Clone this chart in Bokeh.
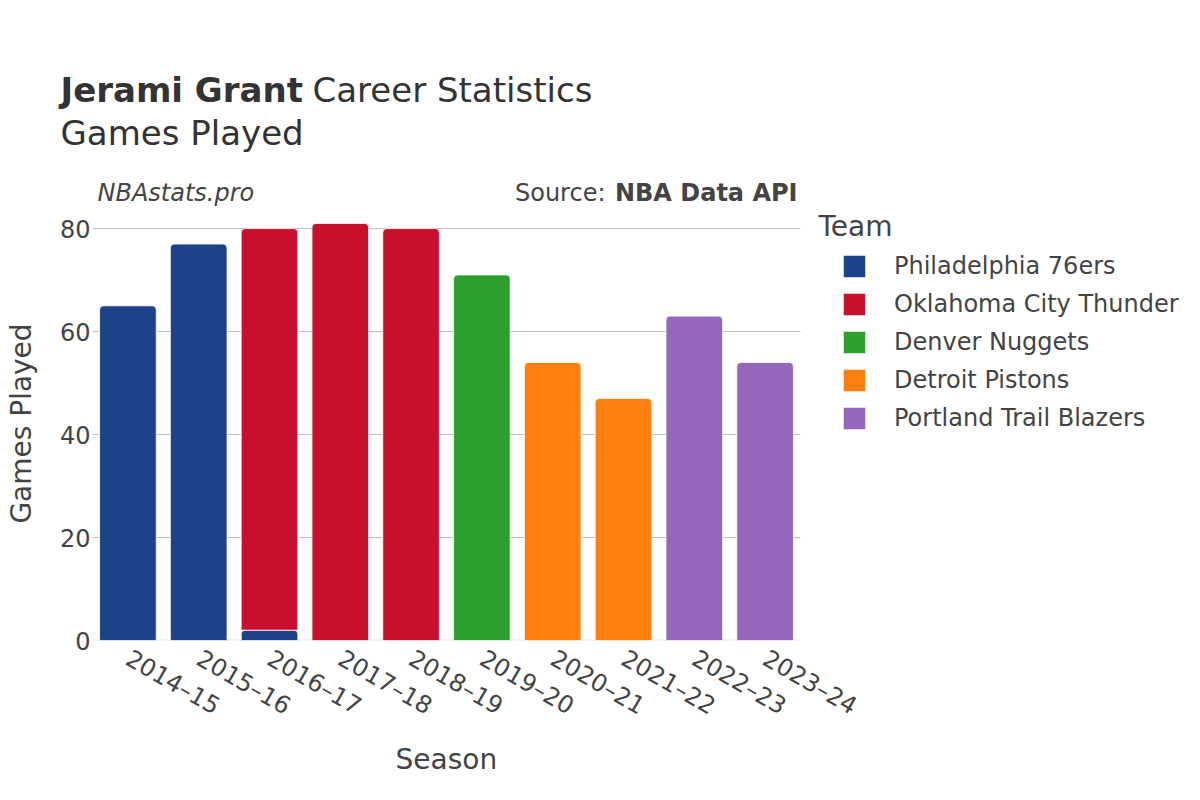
import math
from bokeh.plotting import figure
from bokeh.layouts import column, row
from bokeh.models import Range1d, FixedTicker, Label, Legend, LegendItem, Title
from bokeh.embed import file_html
from bokeh.resources import INLINE

seasons = ["2014–15", "2015–16", "2016–17", "2017–18", "2018–19",
           "2019–20", "2020–21", "2021–22", "2022–23", "2023–24"]
teams = ["Philadelphia 76ers", "Oklahoma City Thunder", "Denver Nuggets",
         "Detroit Pistons", "Portland Trail Blazers"]
team_colors = ["#1d428a", "#c8102e", "#2ca02c", "#ff7f0e", "#9467bd"]
phi_games = [65, 77, 2, 0, 0, 0, 0, 0, 0, 0]
okc_games = [0, 0, 78, 81, 80, 0, 0, 0, 0, 0]
den_games = [0, 0, 0, 0, 0, 71, 0, 0, 0, 0]
det_games = [0, 0, 0, 0, 0, 0, 54, 47, 0, 0]
por_games = [0, 0, 0, 0, 0, 0, 0, 0, 63, 54]
y_ticks = [0, 20, 40, 60, 80]

series = [phi_games, okc_games, den_games, det_games, por_games]

W, H = 1200, 800
HH = 206                            # header height
# the visible plotting area (bars + grid) in page px
PL, PR, PT, PB = 92, 800, 201, 640
Y_TOP = 85.26                       # value at the top of the bar area
N = len(seasons)
PX_CAT = (PR - PL) / N              # px per category
XMIN = -0.5
XMAX = XMIN + (W - PL) / PX_CAT     # frame runs on to the right page edge
PX_VAL = (PB - PT) / Y_TOP
YMAX = (PB - HH) / PX_VAL           # frame starts just under the header

TXT = "#444444"
FONT = "DejaVu Sans"

# ---------------- header (title, subtitle, credits) ----------------
hd = figure(width=W, height=HH, output_backend="svg", toolbar_location=None,
            x_range=Range1d(0, W), y_range=Range1d(HH, 0),
            x_axis_type=None, y_axis_type=None, min_border=0,
            min_border_left=0, min_border_right=0,
            min_border_top=0, min_border_bottom=0)
hd.title.visible = False
hd.outline_line_color = None
hd.background_fill_color = "white"
hd.border_fill_color = "white"

def hlab(text, px, py, size, align="left", style="normal", color=TXT):
    hd.add_layout(Label(x=px, y=py, text=text, text_font=FONT,
                        text_font_size=size, text_font_style=style,
                        text_color=color, text_align=align,
                        text_baseline="middle"))

hlab("Jerami Grant", 60, 89, "34px", style="bold", color="#333333")
hlab("Career Statistics", 312, 89, "34px", color="#333333")
hlab("Games Played", 60, 132, "34px", color="#333333")
hlab("NBAstats.pro", 97, 192, "24px", style="italic")
hlab("NBA Data API", 797, 192, "24px", align="right", style="bold")
hlab("Source:", 605, 192, "24px", align="right")

# ---------------- main chart ----------------
p = figure(width=W, height=H - HH, output_backend="svg", toolbar_location=None,
           x_range=Range1d(XMIN, XMAX), y_range=Range1d(0, YMAX),
           min_border_left=PL, min_border_right=0,
           min_border_top=0, min_border_bottom=H - PB)
p.title.visible = False
p.outline_line_color = None
p.background_fill_color = "white"
p.border_fill_color = "white"

# page px -> data coords
def dx(px):
    return XMIN + (px - PL) / PX_CAT

def dy(py):
    return (PB - py) / PX_VAL

x_last = N - 0.5
# zero line and grid lines, limited to the bar area
p.segment(x0=[XMIN], x1=[x_last], y0=[0], y1=[0], line_color="#e8e8e8",
          line_width=2, level="underlay")
p.segment(x0=[XMIN] * 4, x1=[x_last] * 4, y0=y_ticks[1:], y1=y_ticks[1:],
          line_color="#bdbdbd", line_width=1, level="underlay")

# stacked bars
xs_all = list(range(N))
base = [0] * N
renderers = []
for team, col, vals in zip(teams, team_colors, series):
    xs, bots, tops = [], [], []
    for i, v in enumerate(vals):
        if v > 0:
            xs.append(xs_all[i])
            bots.append(base[i])
            tops.append(base[i] + v)
    r = p.vbar(x=xs, bottom=bots, top=tops, width=0.8, fill_color=col,
               line_color="white", line_width=0.8, border_radius=(4, 4, 0, 0))
    renderers.append(r)
    base = [b + v for b, v in zip(base, vals)]

# axes
p.xaxis.ticker = FixedTicker(ticks=xs_all)
p.xaxis.major_label_overrides = {i: s for i, s in enumerate(seasons)}
p.xaxis.major_label_orientation = -math.pi / 6
p.yaxis.ticker = FixedTicker(ticks=y_ticks)
p.yaxis.bounds = (0, Y_TOP)
for ax in (p.xaxis[0], p.yaxis[0]):
    ax.axis_line_color = None
    ax.major_tick_line_color = None
    ax.minor_tick_line_color = None
    ax.major_tick_out = 0
    ax.major_tick_in = 0
    ax.major_label_text_font = FONT
    ax.major_label_text_font_size = "24px"
    ax.major_label_text_color = TXT
p.yaxis.axis_label = "Games Played"
p.yaxis.axis_label_text_font = FONT
p.yaxis.axis_label_text_font_size = "28px"
p.yaxis.axis_label_text_font_style = "normal"
p.yaxis.axis_label_text_color = TXT
p.yaxis.major_label_standoff = 2
p.yaxis.axis_label_standoff = 19
p.xaxis.major_label_standoff = 16
p.xgrid.visible = False
p.ygrid.visible = False

# x-axis title, centred under the bar area
p.add_layout(Title(text="Season", align="left", offset=(PL + PR) / 2 - 51 - PL,
                   text_font=FONT, text_font_size="28px",
                   text_font_style="normal", text_color=TXT), "below")

p.add_layout(Label(x=dx(818), y=dy(226), text="Team", text_font=FONT,
                   text_font_size="28px", text_color=TXT,
                   text_align="left", text_baseline="middle"))

legend = Legend(items=[LegendItem(label=t, renderers=[r]) for t, r in zip(teams, renderers)],
                location=(840 - PL, PB - 432),
                orientation="vertical", padding=0, margin=0, spacing=10,
                glyph_width=28, glyph_height=28, label_height=28,
                label_standoff=26, label_text_font=FONT,
                label_text_font_size="24px", label_text_color=TXT,
                border_line_alpha=0, background_fill_alpha=0)
p.add_layout(legend, "center")

# keep the header's frame independent of the chart's frame
if "frame_align" in hd.properties():
    hd.frame_align = False
    p.frame_align = False
    layout = column(hd, p, spacing=0)
else:
    layout = column(row(hd, spacing=0), p, spacing=0)

open("out.html", "w").write(file_html(layout, INLINE))
